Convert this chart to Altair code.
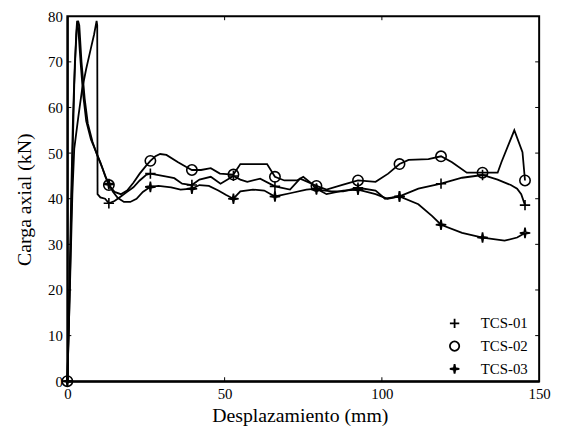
import altair as alt
import pandas as pd

# ---------------- data ----------------
series_names = ["TCS-01", "TCS-02", "TCS-03"]

tcs01_x = [0, 0.4, 0.8, 1.6, 2.2, 3.5, 4.7, 6.0, 7.5, 8.5, 9.3, 9.5, 9.6, 10.5, 12.0, 13.2,
           15.0, 17.0, 19.0, 21.0, 23.0, 25.0, 26.4, 29.0, 32.0, 34.0, 36.5, 39.6, 42.0,
           45.6, 48.7, 52.8, 55.0, 57.2, 61.3, 66.0, 70.8, 74.0, 77.7, 79.2, 84.0, 87.7,
           92.4, 98.0, 101.0, 105.6, 111.6, 118.8, 125.5, 132.0, 136.8, 141.0, 143.0,
           144.3, 145.5]
tcs01_y = [0, 10, 20, 41, 51, 58, 64, 68.5, 73, 76, 79, 78, 41, 40.3, 40, 39,
           39.5, 40.5, 41.5, 42.5, 44, 45.2, 45.5, 45.2, 44.8, 44.5, 43.3, 43.0, 44.2,
           44.8, 43.3, 45.0, 44.2, 43.7, 44.4, 42.7, 42.0, 44.4, 43.3, 42.0, 41.6, 41.6,
           42.4, 41.8, 40.0, 40.5, 42.2, 43.3, 44.6, 45.2, 44.2, 43.0, 42.2,
           41.0, 38.6]

tcs02_x = [0, 0.5, 1.0, 1.6, 2.2, 2.8, 3.1, 3.5, 4.2, 5.0, 6.0, 7.5, 9.0, 10.5, 12.0, 13.2,
           15.0, 17.0, 19.0, 21.0, 23.0, 25.0, 26.4, 28.0, 29.5, 31.5, 35.2, 37.7, 39.6,
           42.5, 45.6, 48.5, 52.8, 55.0, 63.5, 66.0, 69.0, 73.0, 75.0, 77.7, 79.2, 82.4,
           87.7, 92.4, 98.0, 102.0, 105.6, 108.5, 114.8, 118.8, 122.3, 127.0, 132.0,
           136.8, 138.0, 142.1, 144.7, 145.5]
tcs02_y = [0, 12, 28, 48, 65, 76, 79, 77, 70, 63, 57, 53, 50.5, 48, 45, 43,
           41.5, 41, 41.8, 43.5, 45.5, 47.2, 48.3, 49.3, 49.8, 49.6, 48, 47, 46.3,
           46.3, 46.7, 45.5, 45.3, 47.6, 47.6, 44.8, 44, 44, 44.8, 43.3, 42.8, 42,
           43.1, 44, 43.7, 45.5, 47.6, 48.5, 48.7, 49.3, 48, 45.7, 45.7,
           45.7, 48, 55, 50.2, 44]

tcs03_x = [0, 0.6, 1.2, 1.8, 2.4, 3.0, 3.4, 3.8, 4.5, 5.5, 6.5, 8.0, 9.5, 11.0, 12.2, 13.2,
           14.5, 16.0, 18.0, 20.0, 22.0, 24.0, 26.4, 29.0, 33.0, 36.0, 39.6, 42.0, 45.0,
           48.0, 50.5, 52.8, 55.0, 59.0, 62.6, 66.0, 70.8, 76.0, 79.2, 82.4, 87.7, 92.4,
           98.0, 101.8, 105.6, 111.6, 116.0, 118.8, 125.5, 132.0, 139.0, 143.0, 145.5]
tcs03_y = [0, 18, 40, 58, 70, 77, 79, 78, 70, 62, 56.5, 52.5, 49.5, 47, 44.8, 43.2,
           41.5, 40.2, 39.3, 39.3, 40, 41.5, 42.6, 42.8, 42.5, 42, 42.2, 43, 42.8,
           41.8, 40.8, 40, 41.6, 42, 41.8, 40.5, 41.2, 42, 42.2, 41, 41.8, 42,
           41, 40, 40.5, 38.8, 36.2, 34.3, 32.5, 31.5, 30.8, 31.5, 32.5]

marker_x = [0, 13.2, 26.4, 39.6, 52.8, 66.0, 79.2, 92.4, 105.6, 118.8, 132.0, 145.5]
tcs01_marker_y = [0, 39, 45.5, 43.0, 45.0, 42.7, 42.0, 42.4, 40.5, 43.3, 45.2, 38.6]
tcs02_marker_y = [0, 43, 48.3, 46.3, 45.3, 44.8, 42.8, 44.0, 47.6, 49.3, 45.7, 44.0]
tcs03_marker_y = [0, 43.2, 42.6, 42.2, 40.0, 40.5, 42.2, 42.0, 40.5, 34.3, 31.5, 32.5]

x_ticks = [0, 50, 100, 150]
y_ticks = [0, 10, 20, 30, 40, 50, 60, 70, 80]
x_inner_ticks = [50, 100]
y_inner_ticks = [10, 20, 30, 40, 50, 60, 70]

# ---------------- tables ----------------
line_rows = []
for name, xs, ys in zip(series_names, [tcs01_x, tcs02_x, tcs03_x], [tcs01_y, tcs02_y, tcs03_y]):
    for i, (a, b) in enumerate(zip(xs, ys)):
        line_rows.append({"serie": name, "x": a, "y": b, "i": i})
lines_df = pd.DataFrame(line_rows)

marker_rows = []
for name, ys in zip(series_names, [tcs01_marker_y, tcs02_marker_y, tcs03_marker_y]):
    for a, b in zip(marker_x, ys):
        marker_rows.append({"serie": name, "x": a, "y": b})
markers_df = pd.DataFrame(marker_rows)

xt_df = pd.DataFrame({"t": x_inner_ticks})
yt_df = pd.DataFrame({"t": y_inner_ticks})

W, H = 477, 369
FONT = "Liberation Serif"

x_scale = alt.Scale(domain=[0, 150], nice=False, zero=False)
y_scale = alt.Scale(domain=[0, 80], nice=False, zero=False)

x_axis = alt.Axis(values=x_ticks, title="Desplazamiento (mm)", grid=False, ticks=False, tickSize=0,
                  labelFont=FONT, labelFontSize=15, labelColor="black", labelPadding=17,
                  labelBaseline="alphabetic", labelFlush=False,
                  domainColor="black", domainWidth=2,
                  titleFont=FONT, titleFontSize=20, titleFontWeight="normal", titleColor="black",
                  titleX=235, titleY=41, titleBaseline="alphabetic")
y_axis = alt.Axis(values=y_ticks, title="Carga axial (kN)", grid=False, ticks=False, tickSize=0,
                  labelFont=FONT, labelFontSize=15, labelColor="black", labelPadding=5,
                  labelFlush=False,
                  domainColor="black", domainWidth=2,
                  titleFont=FONT, titleFontSize=20, titleFontWeight="normal", titleColor="black",
                  titleAngle=-90, titleX=-37, titleY=185, titleAlign="center",
                  titleBaseline="alphabetic")

lines = alt.Chart(lines_df).mark_line(color="black", strokeWidth=1.8).encode(
    x=alt.X("x:Q", scale=x_scale, axis=x_axis),
    y=alt.Y("y:Q", scale=y_scale, axis=y_axis),
    detail="serie:N",
    order="i:Q",
)

plus_path = "M-1,0L1,0M0,-1L0,1"
star_path = "M0,-1L0.15,-0.15L1,0L0.15,0.15L0,1L-0.15,0.15L-1,0L-0.15,-0.15Z"

points = alt.Chart(markers_df).mark_point(filled=False, color="black", strokeWidth=1.6,
                                          size=110, opacity=1).encode(
    x=alt.X("x:Q", scale=x_scale),
    y=alt.Y("y:Q", scale=y_scale),
    shape=alt.Shape("serie:N",
                    scale=alt.Scale(domain=series_names, range=[plus_path, "circle", star_path]),
                    legend=alt.Legend(title=None, orient="none", legendX=384, legendY=303,
                                      labelFont=FONT, labelFontSize=15, labelColor="black",
                                      labelOffset=19, rowPadding=6, symbolSize=90,
                                      symbolStrokeColor="black", symbolStrokeWidth=1.8,
                                      symbolFillColor="transparent")),
)

xt_bottom = alt.Chart(xt_df).mark_rule(color="black", strokeWidth=1).encode(
    x=alt.X("t:Q", scale=x_scale), y=alt.value(H), y2=alt.value(H - 4))
xt_top = alt.Chart(xt_df).mark_rule(color="black", strokeWidth=1).encode(
    x=alt.X("t:Q", scale=x_scale), y=alt.value(0), y2=alt.value(4))
yt_left = alt.Chart(yt_df).mark_rule(color="black", strokeWidth=1).encode(
    y=alt.Y("t:Q", scale=y_scale), x=alt.value(0), x2=alt.value(4))
yt_right = alt.Chart(yt_df).mark_rule(color="black", strokeWidth=1).encode(
    y=alt.Y("t:Q", scale=y_scale), x=alt.value(W), x2=alt.value(W - 4))

chart = alt.layer(xt_bottom, xt_top, yt_left, yt_right, lines, points).properties(
    width=W, height=H,
    autosize=alt.AutoSizeParams(type="none"),
    padding={"left": 60, "top": 6, "right": 14, "bottom": 48},
).configure(
    background="white", font=FONT
).configure_view(
    stroke="black", strokeWidth=2
).configure_axis(
    labelFont=FONT, titleFont=FONT, titleFontWeight="normal"
).configure_legend(
    labelFont=FONT
)

chart.save("out.html", embed_options={"renderer": "svg", "actions": False})
